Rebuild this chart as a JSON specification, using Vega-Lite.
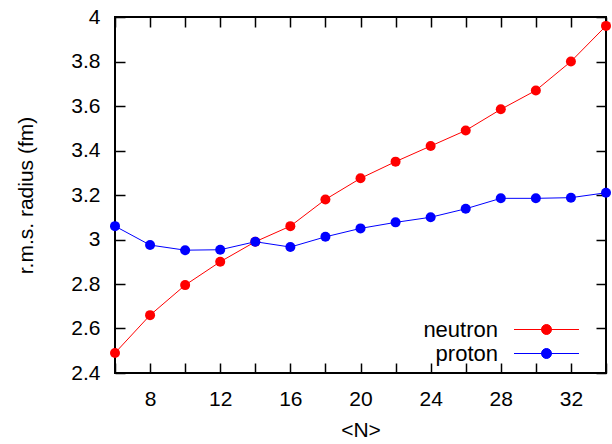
{
  "$schema": "https://vega.github.io/schema/vega-lite/v6.json",
  "width": 491,
  "height": 356,
  "autosize": {"type": "none"},
  "padding": {"left": 115, "top": 17, "right": 6, "bottom": 71},
  "background": "white",
  "config": {
    "font": "Liberation Sans",
    "view": {"stroke": "black", "strokeWidth": 2},
    "axis": {
      "domain": false,
      "grid": false,
      "tickColor": "black",
      "tickWidth": 1.5,
      "tickSize": -10,
      "labelColor": "black",
      "labelFontSize": 21,
      "titleFontSize": 21,
      "titleFontWeight": "normal",
      "titleColor": "black"
    }
  },
  "data": {
    "values": [
      {"N": 6, "r": 2.49, "series": "neutron"},
      {"N": 8, "r": 2.66, "series": "neutron"},
      {"N": 10, "r": 2.795, "series": "neutron"},
      {"N": 12, "r": 2.9, "series": "neutron"},
      {"N": 14, "r": 2.99, "series": "neutron"},
      {"N": 16, "r": 3.06, "series": "neutron"},
      {"N": 18, "r": 3.18, "series": "neutron"},
      {"N": 20, "r": 3.275, "series": "neutron"},
      {"N": 22, "r": 3.35, "series": "neutron"},
      {"N": 24, "r": 3.42, "series": "neutron"},
      {"N": 26, "r": 3.49, "series": "neutron"},
      {"N": 28, "r": 3.585, "series": "neutron"},
      {"N": 30, "r": 3.67, "series": "neutron"},
      {"N": 32, "r": 3.8, "series": "neutron"},
      {"N": 34, "r": 3.96, "series": "neutron"},
      {"N": 6, "r": 3.06, "series": "proton"},
      {"N": 8, "r": 2.975, "series": "proton"},
      {"N": 10, "r": 2.952, "series": "proton"},
      {"N": 12, "r": 2.954, "series": "proton"},
      {"N": 14, "r": 2.99, "series": "proton"},
      {"N": 16, "r": 2.966, "series": "proton"},
      {"N": 18, "r": 3.012, "series": "proton"},
      {"N": 20, "r": 3.05, "series": "proton"},
      {"N": 22, "r": 3.077, "series": "proton"},
      {"N": 24, "r": 3.1, "series": "proton"},
      {"N": 26, "r": 3.138, "series": "proton"},
      {"N": 28, "r": 3.185, "series": "proton"},
      {"N": 30, "r": 3.185, "series": "proton"},
      {"N": 32, "r": 3.188, "series": "proton"},
      {"N": 34, "r": 3.21, "series": "proton"}
    ]
  },
  "layer": [
    {
      "mark": {"type": "line", "strokeWidth": 1, "clip": false, "point": {"filled": true, "size": 100, "opacity": 1}},
      "encoding": {
        "x": {
          "field": "N", "type": "quantitative",
          "scale": {"domain": [6, 34], "nice": false, "zero": false},
          "axis": {
            "orient": "bottom",
            "title": "<N>",
            "titlePadding": 10,
            "values": [6, 8, 10, 12, 14, 16, 18, 20, 22, 24, 26, 28, 30, 32, 34],
            "labelExpr": "datum.value % 4 == 0 ? datum.label : ''",
            "labelPadding": 25
          }
        },
        "y": {
          "field": "r", "type": "quantitative",
          "scale": {"domain": [2.4, 4], "nice": false, "zero": false},
          "axis": {
            "orient": "left",
            "title": "r.m.s. radius (fm)",
            "titlePadding": 34,
            "values": [2.4, 2.6, 2.8, 3, 3.2, 3.4, 3.6, 3.8, 4],
            "format": "~g",
            "labelPadding": 25
          }
        },
        "color": {
          "field": "series", "type": "nominal",
          "scale": {"domain": ["neutron", "proton"], "range": ["#ff0000", "#0000ff"]},
          "legend": {
            "orient": "none",
            "legendX": 420,
            "legendY": 301,
            "title": null,
            "padding": 0,
            "symbolType": "M-3,0L3,0M0.46,0A0.46,0.46,0,1,1,-0.46,0A0.46,0.46,0,1,1,0.46,0Z",
            "symbolSize": 469,
            "symbolStrokeWidth": 1,
            "rowPadding": 1,
            "labelAlign": "right",
            "labelOffset": -60,
            "labelFontSize": 22,
            "labelColor": "black",
            "labelLimit": 200,
            "encode": {
              "symbols": {
                "update": {
                  "fill": {"scale": "color", "field": "value"},
                  "stroke": {"scale": "color", "field": "value"},
                  "opacity": {"value": 1}
                }
              }
            }
          }
        }
      }
    },
    {
      "mark": {"type": "point", "opacity": 0},
      "encoding": {
        "x": {
          "field": "N", "type": "quantitative",
          "scale": {"domain": [6, 34], "nice": false, "zero": false},
          "axis": {
            "orient": "top",
            "title": null,
            "labels": false,
            "values": [6, 8, 10, 12, 14, 16, 18, 20, 22, 24, 26, 28, 30, 32, 34]
          }
        },
        "y": {
          "field": "r", "type": "quantitative",
          "scale": {"domain": [2.4, 4], "nice": false, "zero": false},
          "axis": {
            "orient": "right",
            "title": null,
            "labels": false,
            "values": [2.4, 2.6, 2.8, 3, 3.2, 3.4, 3.6, 3.8, 4]
          }
        }
      }
    }
  ],
  "resolve": {"axis": {"x": "independent", "y": "independent"}}
}
